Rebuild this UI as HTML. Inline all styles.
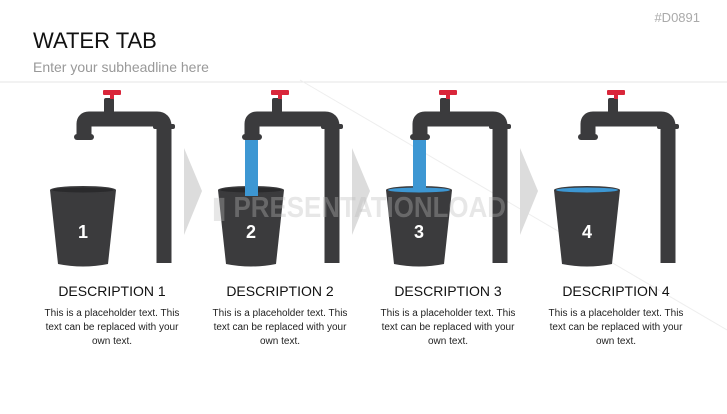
<!DOCTYPE html>
<html><head><meta charset="utf-8"><style>
body{margin:0;width:727px;height:409px;background:#fff;overflow:hidden;font-family:"Liberation Sans",sans-serif;}
</style></head><body>
<svg width="727" height="409" xmlns="http://www.w3.org/2000/svg" font-family="Liberation Sans, sans-serif">
<defs>
<g id="tap">
  <path d="M84 139 L84 124 Q84 119 89 119 L157 119 Q164 119 164 126 L164 263" fill="none" stroke="#3b3b3d" stroke-width="15"/>
  <rect x="74" y="134" width="20" height="6" rx="3" fill="#3b3b3d"/>
  <rect x="153" y="124" width="22" height="5" rx="2" fill="#3b3b3d"/>
  <rect x="104" y="98" width="10" height="16" rx="2" fill="#3b3b3d"/>
  <rect x="103" y="90" width="18" height="5" rx="1" fill="#d9263a"/>
  <rect x="110" y="94" width="4" height="5" fill="#d9263a"/>
</g>
<g id="bucket">
  <path d="M50 190 L58 264 Q83 269 108 264 L116 190 Z" fill="#3b3b3d"/>
  <ellipse cx="83" cy="190" rx="33" ry="4" fill="#3b3b3d"/>
  <ellipse cx="83" cy="190" rx="31" ry="2.5" fill="#2a2a2c"/>
</g>
</defs>
<text x="33" y="48" font-size="22" fill="#111">WATER TAB</text>
<text x="33" y="72" font-size="14" fill="#999">Enter your subheadline here</text>
<line x1="0" y1="82" x2="727" y2="82" stroke="#e6e6e6" stroke-width="1"/>
<text x="700" y="22" font-size="13" fill="#aaa" text-anchor="end">#D0891</text>
<line x1="300" y1="80" x2="727" y2="330" stroke="#eee"/>
<g fill="#dcdcdc">
<polygon points="184,148 202,191 184,235"/>
<polygon points="352,148 370,191 352,235"/>
<polygon points="520,148 538,191 520,235"/>
</g>
<use href="#tap"/><use href="#bucket"/>
<g transform="translate(168,0)"><rect x="77" y="139" width="13" height="57" fill="#3d97d3"/><use href="#tap"/><use href="#bucket"/><rect x="77" y="186" width="13" height="10" fill="#3d97d3"/></g>
<g transform="translate(336,0)"><rect x="77" y="139" width="13" height="52" fill="#3d97d3"/><use href="#tap"/><use href="#bucket"/><ellipse cx="83" cy="190" rx="31" ry="2.5" fill="#3d97d3"/><rect x="77" y="186" width="13" height="5" fill="#3d97d3"/></g>
<g transform="translate(504,0)"><use href="#tap"/><use href="#bucket"/><ellipse cx="83" cy="190" rx="31" ry="2.5" fill="#3d97d3"/></g>
<text x="212" y="217" font-size="29" font-weight="bold" fill="#bbb" opacity="0.35" textLength="294" lengthAdjust="spacingAndGlyphs">▮ PRESENTATIONLOAD</text>
<g fill="#fff" font-size="18" font-weight="bold" text-anchor="middle">
<text x="83" y="238">1</text><text x="251" y="238">2</text><text x="419" y="238">3</text><text x="587" y="238">4</text>
</g>
<g font-size="14" fill="#111" text-anchor="middle">
<text x="112" y="296">DESCRIPTION 1</text><text x="280" y="296">DESCRIPTION 2</text><text x="448" y="296">DESCRIPTION 3</text><text x="616" y="296">DESCRIPTION 4</text>
</g>
<g font-size="10" fill="#222" text-anchor="middle">
<text x="112" y="316">This is a placeholder text. This</text><text x="112" y="330">text can be replaced with your</text><text x="112" y="344">own text.</text>
<text x="280" y="316">This is a placeholder text. This</text><text x="280" y="330">text can be replaced with your</text><text x="280" y="344">own text.</text>
<text x="448" y="316">This is a placeholder text. This</text><text x="448" y="330">text can be replaced with your</text><text x="448" y="344">own text.</text>
<text x="616" y="316">This is a placeholder text. This</text><text x="616" y="330">text can be replaced with your</text><text x="616" y="344">own text.</text>
</g>
</svg>
</body></html>
